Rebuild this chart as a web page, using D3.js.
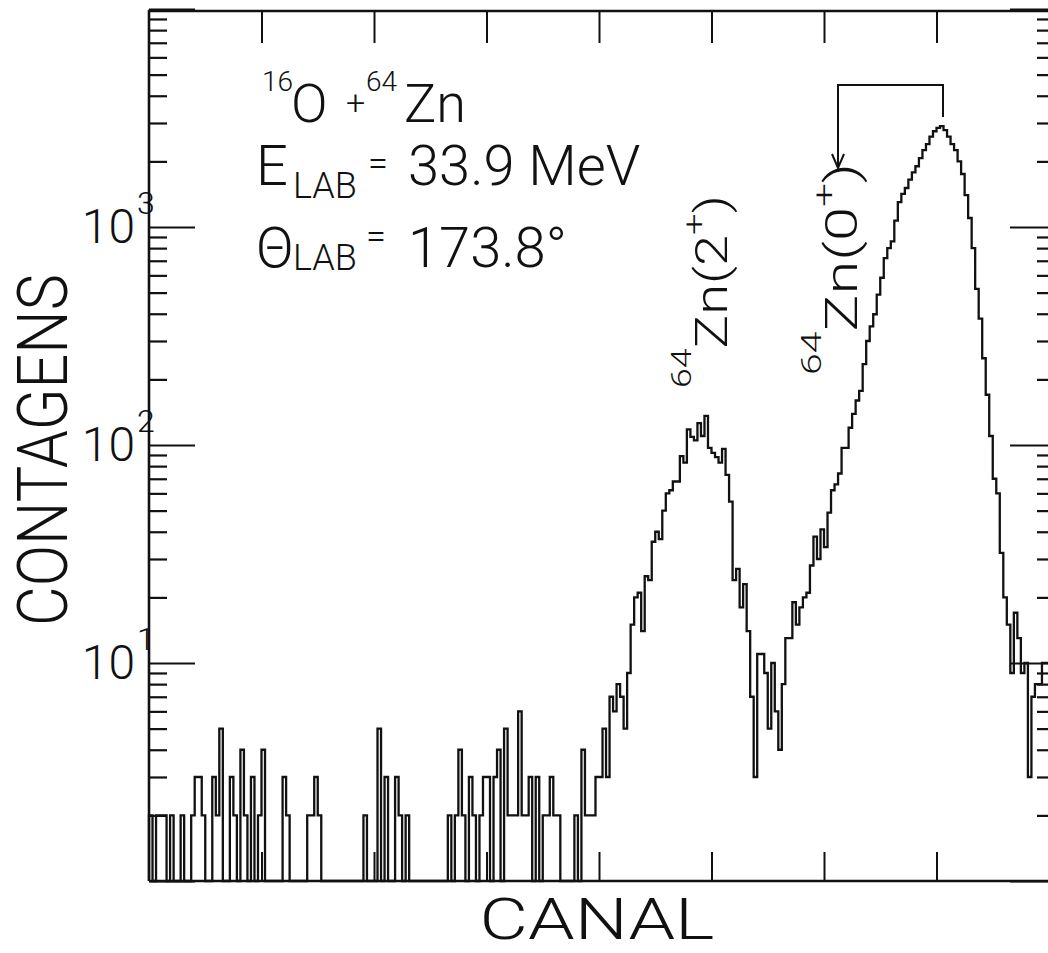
<!DOCTYPE html>
<html><head><meta charset="utf-8">
<script src="https://cdn.jsdelivr.net/npm/d3@7"></script>
<style>
html,body{margin:0;padding:0;background:#fff;}
svg{display:block;}
text{font-family:Roboto,"Open Sans",Lato,sans-serif;font-weight:300;fill:#111;}
</style></head><body>
<svg id="chart" width="1048" height="953"></svg>
<script>
// ---- data: counts per channel (0..255) ----
const counts = [
  2,0,2,2,2,0,2,0,0,2, 0,0,2,3,3,2,0,0,3,2, 5,0,0,3,2,0,4,2,0,3, 0,2,4,0,0,0,0,0,3,2,
  0,0,0,0,0,2,2,3,2,0, 0,0,0,0,0,0,0,0,0,0, 0,2,0,0,0,5,0,3,0,0, 3,2,0,2,0,0,0,0,0,0,
  0,0,0,0,0,2,0,2,4,2, 0,3,2,0,2,3,3,0,3,4, 0,5,2,2,2,6,2,2,3,0, 3,0,2,2,3,2,2,0,0,0,
  0,2,0,4,2,2,2,3,3,5, 3,7,6,8,7,5,9,15,20,21, 14,25,24,36,40,37,50,60,62,68, 68,89,83,118,109,105,126,110,136,97,
  92,88,83,96,73,55,24,27,18,23, 14,7,3,11,11,9,5,10,6,4, 8,13,13,19,15,18,20,21,28,38, 30,41,34,49,62,66,74,97,97,120,
  139,160,177,235,300,350,398,490,585,720, 800,860,1070,1300,1420,1510,1650,1780,1900,2070, 2250,2400,2600,2750,2850,2900,2780,2600,2400,2250,
  2000,1750,1400,1100,800,520,380,250,170,110, 70,60,32,20,15,9,17,13,9,10, 3,7,8,8,10,10
];
const nChannels = 256;
const xTickChannels = [32,64,96,128,160,192,224];
const yMajorTicks = [1,10,100,1000,10000];
const yLabelValues = [10,100,1000];
const yLabelExponents = ["1","2","3"];
const yTitle = "CONTAGENS";
const xTitle = "CANAL";
const reaction = {a:"16", b:"O", plus:"+", c:"64", d:"Zn"};
const energyText = "33.9 MeV";
const angleText = "173.8°";
const peakLabels = [
  {mass:"64", el:"Zn(2", sup:"+", close:")"},
  {mass:"64", el:"Zn(0", sup:"+", close:")"}
];

// ---- layout ----
const svg = d3.select("#chart");
const L = 149, R = 1049, T = 9, B = 881;
const x = d3.scaleLinear().domain([0, nChannels]).range([L, R]);
const y = d3.scaleLog().domain([1, 10000]).range([B, T]);
const ink = "#111";

const minors = [];
[1,10,100,1000].forEach(d => { for (let k = 2; k <= 9; k++) minors.push(d*k); });

function styleAxis(g, w) {
  g.select(".domain").remove();
  g.selectAll("line").attr("stroke", ink).attr("stroke-width", w);
}
// left
svg.append("g").attr("transform", `translate(${L},0)`)
  .call(d3.axisLeft(y).tickValues(yMajorTicks).tickSize(-46).tickFormat(""))
  .call(g => styleAxis(g, 2.2));
svg.append("g").attr("transform", `translate(${L},0)`)
  .call(d3.axisLeft(y).tickValues(minors).tickSize(-18).tickFormat(""))
  .call(g => styleAxis(g, 2.2));
// right
svg.append("g").attr("transform", `translate(${R+3},0)`)
  .call(d3.axisRight(y).tickValues(yMajorTicks).tickSize(-42).tickFormat(""))
  .call(g => styleAxis(g, 2.2));
svg.append("g").attr("transform", `translate(${R+3},0)`)
  .call(d3.axisRight(y).tickValues(minors).tickSize(-15).tickFormat(""))
  .call(g => styleAxis(g, 2.2));
// top / bottom
svg.append("g").attr("transform", `translate(0,${T+2})`)
  .call(d3.axisTop(x).tickValues(xTickChannels).tickSize(-32).tickFormat(""))
  .call(g => styleAxis(g, 2));
svg.append("g").attr("transform", `translate(0,${B})`)
  .call(d3.axisBottom(x).tickValues(xTickChannels).tickSize(-29).tickFormat(""))
  .call(g => styleAxis(g, 2));

// frame
svg.append("path")
  .attr("d", `M${L},${B}L${L},${T+2}L${R+3},${T+2}M${L},${B}L${R+3},${B}`)
  .attr("fill", "none").attr("stroke", ink).attr("stroke-width", 2.6);

// histogram
const pts = [[0, 1]].concat(counts.map((v, i) => [i, Math.max(v, 1)]));
pts.push([nChannels, Math.max(counts[nChannels-1], 1)]);
svg.append("path")
  .datum(pts)
  .attr("d", d3.line().x(d => x(d[0])).y(d => y(d[1])).curve(d3.curveStepAfter))
  .attr("fill", "none").attr("stroke", ink).attr("stroke-width", 2.3)
  .attr("stroke-linejoin", "miter");

// y tick labels
yLabelValues.forEach((v, i) => {
  svg.append("text").attr("x", 135).attr("y", y(v) + 16)
    .attr("text-anchor", "end").attr("font-size", 48).text("10");
  svg.append("text").attr("x", 137).attr("y", y(v) - 13)
    .attr("font-size", 32).text(yLabelExponents[i]);
});

// axis titles
svg.append("text").attr("transform", "translate(67,450) rotate(-90)")
  .attr("text-anchor", "middle").attr("font-size", 70)
  .attr("textLength", 352).attr("lengthAdjust", "spacingAndGlyphs").text(yTitle);
svg.append("text").attr("x", 597).attr("y", 939)
  .attr("text-anchor", "middle").attr("font-size", 57)
  .attr("textLength", 235).attr("lengthAdjust", "spacingAndGlyphs").text(xTitle);

// annotation block
function t(xp, yp, fs, s) {
  return svg.append("text").attr("x", xp).attr("y", yp).attr("font-size", fs).text(s);
}
t(262, 91, 28, reaction.a);
t(291, 122, 54, reaction.b);
t(346, 114, 34, reaction.plus);
t(366, 91, 28, reaction.c);
t(404, 122, 54, reaction.d);

t(256, 185, 56, "E");
t(293, 198, 36, "LAB");
t(368, 176, 36, "=");
t(408, 185, 56, energyText);

t(256, 267, 56, "Θ");
t(293, 270, 36, "LAB");
t(366, 249, 36, "=");
t(408, 267, 56, angleText);

// peak labels (rotated)
const peakPos = [{xb: 727, yb: 388, len: 193}, {xb: 857, yb: 375, len: 212}];
peakLabels.forEach((p, i) => {
  const pos = peakPos[i];
  const tx = svg.append("text")
    .attr("transform", `translate(${pos.xb},${pos.yb}) rotate(-90)`)
    .attr("textLength", pos.len).attr("lengthAdjust", "spacingAndGlyphs");
  tx.append("tspan").attr("font-size", 28).attr("dy", -36).text(p.mass);
  tx.append("tspan").attr("font-size", 44).attr("dy", 36).text(p.el);
  tx.append("tspan").attr("font-size", 30).attr("dy", -23).text(p.sup);
  tx.append("tspan").attr("font-size", 44).attr("dy", 23).text(p.close);
});

// bracket arrow over main peak
const peakIdx = counts.indexOf(d3.max(counts));
const ax0 = 838, ax1 = x(peakIdx + 0.85);
svg.append("path")
  .attr("d", `M${ax0},168L${ax0},85L${ax1},85L${ax1},117`)
  .attr("fill", "none").attr("stroke", ink).attr("stroke-width", 2);
svg.append("path")
  .attr("d", `M${ax0-6},154L${ax0},168L${ax0+6},154`)
  .attr("fill", "none").attr("stroke", ink).attr("stroke-width", 2);
</script>
</body></html>
